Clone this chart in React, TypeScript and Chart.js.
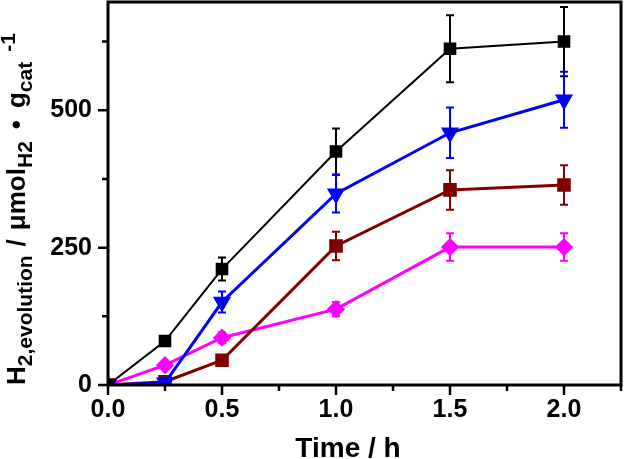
import { useEffect, useRef } from "react"
import { Chart, registerables } from "chart.js"

Chart.register(...registerables)

// reaction time (h)
const times = [0, 0.25, 0.5, 1.0, 1.5, 2.0]

// H2 evolution, µmol per g cat
const blackValues = [0, 80, 211, 425, 612, 625]
const blackErrors = [0, 5, 21, 42, 61, 63]
const blueValues = [0, 4, 151, 348, 459, 519]
const blueErrors = [0, 3, 19, 34, 46, 51]
const brownValues = [0, 6, 45, 253, 355, 364]
const brownErrors = [0, 3, 4, 26, 36, 36]
const magentaValues = [0, 36, 86, 138, 251, 251]
const magentaErrors = [0, 8, 10, 13, 25, 25]

const xMajorTicks = [0, 0.5, 1.0, 1.5, 2.0]
const xMinorTicks = [0.25, 0.75, 1.25, 1.75, 2.25]
const yMajorTicks = [0, 250, 500]
const yMinorTicks = [125, 375, 625]

const FONT = '"Liberation Sans", Arial, sans-serif'

const errorSets = [blackErrors, blueErrors, brownErrors, magentaErrors]

// pin the plot box to where the original figure has it
const boxPlugin = {
  id: "box",
  afterLayout(chart: any) {
    const area = chart.chartArea
    const x = chart.scales.x
    const y = chart.scales.y
    area.top = 2
    area.right = 621
    area.width = area.right - area.left
    area.height = area.bottom - area.top
    y.top = area.top
    y.height = y.bottom - y.top
    y.configure()
    x.right = area.right
    x.width = x.right - x.left
    x.configure()
  },
}

const errorBarsPlugin = {
  id: "errorBars",
  beforeDatasetsDraw(chart: any) {
    const { ctx, chartArea, scales } = chart
    const x = scales.x
    const y = scales.y
    ctx.save()
    ctx.beginPath()
    ctx.rect(chartArea.left, chartArea.top, chartArea.right - chartArea.left, chartArea.bottom - chartArea.top)
    ctx.clip()
    chart.data.datasets.forEach((ds: any, i: number) => {
      const errs = errorSets[i]
      ctx.strokeStyle = ds.borderColor
      ctx.lineWidth = 2
      ds.data.forEach((p: any, j: number) => {
        const e = errs[j]
        if (!e) return
        const px = x.getPixelForValue(p.x)
        const top = y.getPixelForValue(p.y + e)
        const bot = y.getPixelForValue(p.y - e)
        ctx.beginPath()
        ctx.moveTo(px, top)
        ctx.lineTo(px, bot)
        ctx.moveTo(px - 4, top)
        ctx.lineTo(px + 4, top)
        ctx.moveTo(px - 4, bot)
        ctx.lineTo(px + 4, bot)
        ctx.stroke()
      })
    })
    ctx.restore()
  },
}

const framePlugin = {
  id: "frame",
  afterDraw(chart: any) {
    const { ctx, chartArea, scales } = chart
    const x = scales.x
    const y = scales.y
    ctx.save()
    ctx.strokeStyle = "#000"
    ctx.lineWidth = 3
    ctx.strokeRect(chartArea.left, chartArea.top, chartArea.right - chartArea.left, chartArea.bottom - chartArea.top)

    ctx.lineWidth = 2.5
    ctx.beginPath()
    xMajorTicks.forEach((v) => {
      const px = x.getPixelForValue(v)
      ctx.moveTo(px, chartArea.bottom)
      ctx.lineTo(px, chartArea.bottom + 10)
    })
    xMinorTicks.forEach((v) => {
      const px = x.getPixelForValue(v)
      ctx.moveTo(px, chartArea.bottom)
      ctx.lineTo(px, chartArea.bottom + 6)
    })
    yMajorTicks.forEach((v) => {
      const py = y.getPixelForValue(v)
      ctx.moveTo(chartArea.left, py)
      ctx.lineTo(chartArea.left - 10, py)
    })
    yMinorTicks.forEach((v) => {
      const py = y.getPixelForValue(v)
      ctx.moveTo(chartArea.left, py)
      ctx.lineTo(chartArea.left - 6, py)
    })
    ctx.stroke()

    ctx.fillStyle = "#000"

    // x axis title
    ctx.font = `bold 28px ${FONT}`
    ctx.textAlign = "center"
    ctx.textBaseline = "alphabetic"
    ctx.fillText("Time / h", chartArea.left + 240, 457)

    // y axis title with subscripts, drawn rotated
    const main = `bold 26px ${FONT}`
    const small = `bold 21px ${FONT}`
    const parts = [
      { t: "H", f: main, dy: 0, gap: 0 },
      { t: "2,evolution", f: small, dy: 7, gap: 0 },
      { t: "/", f: main, dy: 0, gap: 9 },
      { t: "μmol", f: main, dy: 0, gap: 9 },
      { t: "H2", f: small, dy: 7, gap: 0 },
      { t: "•", f: main, dy: 0, gap: 12 },
      { t: "g", f: main, dy: 0, gap: 12 },
      { t: "cat", f: small, dy: 7, gap: 0 },
      { t: "-1", f: small, dy: -10, gap: 10 },
    ]
    ctx.translate(25, 385)
    ctx.rotate(-Math.PI / 2)
    ctx.textAlign = "left"
    let pos = 0
    parts.forEach((p) => {
      ctx.font = p.f
      pos += p.gap
      ctx.fillText(p.t, pos, p.dy)
      pos += ctx.measureText(p.t).width
    })
    ctx.restore()
  },
}

export default function App() {
  const canvasRef = useRef<HTMLCanvasElement>(null)
  const chartRef = useRef<Chart | null>(null)

  useEffect(() => {
    if (!canvasRef.current) return
    if (chartRef.current) chartRef.current.destroy()

    const toPoints = (vals: number[]) => vals.map((v, i) => ({ x: times[i], y: v }))

    chartRef.current = new Chart(canvasRef.current, {
      type: "line",
      data: {
        datasets: [
          {
            data: toPoints(blackValues),
            borderColor: "#000000",
            backgroundColor: "#000000",
            borderWidth: 2,
            pointStyle: "rect",
            pointRadius: 7.5,
          },
          {
            data: toPoints(blueValues),
            borderColor: "#0000ff",
            backgroundColor: "#0000ff",
            borderWidth: 3,
            pointStyle: "triangle",
            pointRotation: 180,
            pointRadius: 7.5,
          },
          {
            data: toPoints(brownValues),
            borderColor: "#800000",
            backgroundColor: "#800000",
            borderWidth: 3,
            pointStyle: "rect",
            pointRadius: 7.5,
          },
          {
            data: toPoints(magentaValues),
            borderColor: "#ff00ff",
            backgroundColor: "#ff00ff",
            borderWidth: 3,
            pointStyle: "rectRot",
            pointRadius: 7,
          },
        ],
      },
      options: {
        responsive: false,
        animation: false,
        layout: { padding: { left: 0, right: 4, top: 2, bottom: 0 } },
        plugins: { legend: { display: false }, tooltip: { enabled: false } },
        scales: {
          x: {
            type: "linear",
            min: 0,
            max: 2.25,
            grid: { display: false, drawTicks: false, tickLength: 0 },
            border: { display: false },
            afterFit: (s: any) => {
              s.height = 74
            },
            afterBuildTicks: (s: any) => {
              s.ticks = xMajorTicks.map((v) => ({ value: v }))
            },
            ticks: {
              color: "#000",
              padding: 10,
              font: { family: FONT, size: 25, weight: "bold" },
              callback: (v: any) => Number(v).toFixed(1),
            },
            title: { display: false },
          },
          y: {
            type: "linear",
            min: 0,
            max: 697,
            grid: { display: false, drawTicks: false, tickLength: 0 },
            border: { display: false },
            afterFit: (s: any) => {
              s.width = 108
            },
            afterBuildTicks: (s: any) => {
              s.ticks = yMajorTicks.map((v) => ({ value: v }))
            },
            ticks: {
              color: "#000",
              padding: 16,
              font: { family: FONT, size: 25, weight: "bold" },
            },
          },
        },
      },
      plugins: [boxPlugin, errorBarsPlugin, framePlugin],
    } as any)

    return () => {
      if (chartRef.current) {
        chartRef.current.destroy()
        chartRef.current = null
      }
    }
  }, [])

  return (
    <div style={{ position: "fixed", left: 0, top: 0, width: 625, height: 459, background: "#fff" }}>
      <canvas ref={canvasRef} width={625} height={459} />
    </div>
  )
}
